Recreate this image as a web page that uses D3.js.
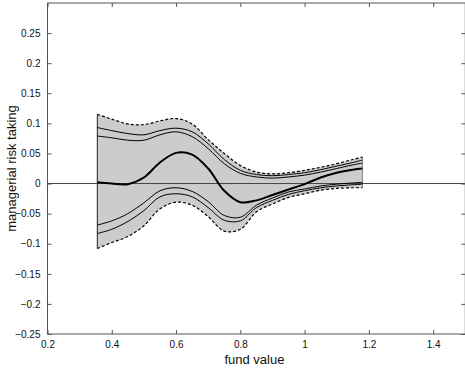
<!DOCTYPE html>
<html>
<head>
<meta charset="utf-8">
<script src="https://cdn.jsdelivr.net/npm/d3@7"></script>
<style>
  body { margin: 0; background: #fff; }
  svg { display: block; font-family: "Liberation Sans", Arial, sans-serif; }
</style>
</head>
<body>
<div id="chart"></div>
<script>
var fundValue = [0.355, 0.40, 0.45, 0.50, 0.55, 0.60, 0.65, 0.70, 0.75, 0.80, 0.85, 0.90, 0.95, 1.00, 1.05, 1.10, 1.15, 1.18];

var upperOuter = [0.115, 0.107, 0.099, 0.098, 0.104, 0.108, 0.099, 0.073, 0.050, 0.030, 0.019, 0.016, 0.018, 0.022, 0.027, 0.033, 0.040, 0.044];
var upperInner1 = [0.093, 0.088, 0.083, 0.081, 0.088, 0.092, 0.086, 0.066, 0.040, 0.022, 0.015, 0.013, 0.015, 0.018, 0.023, 0.029, 0.035, 0.039];
var upperInner2 = [0.079, 0.076, 0.072, 0.072, 0.081, 0.086, 0.078, 0.058, 0.033, 0.017, 0.011, 0.009, 0.011, 0.014, 0.019, 0.025, 0.031, 0.034];
var estimate = [0.002, 0.000, -0.001, 0.010, 0.035, 0.051, 0.048, 0.025, -0.012, -0.031, -0.028, -0.019, -0.010, -0.001, 0.010, 0.018, 0.023, 0.025];
var lowerInner1 = [-0.069, -0.062, -0.050, -0.032, -0.012, -0.007, -0.013, -0.030, -0.053, -0.056, -0.036, -0.024, -0.014, -0.009, -0.004, -0.001, 0.001, 0.002];
var lowerInner2 = [-0.083, -0.076, -0.063, -0.045, -0.022, -0.017, -0.022, -0.040, -0.061, -0.062, -0.040, -0.028, -0.018, -0.012, -0.007, -0.004, -0.002, -0.001];
var lowerOuter = [-0.108, -0.098, -0.088, -0.070, -0.042, -0.031, -0.036, -0.055, -0.079, -0.076, -0.047, -0.034, -0.023, -0.017, -0.011, -0.008, -0.007, -0.007];

var xTicks = [0.2, 0.4, 0.6, 0.8, 1, 1.2, 1.4];
var yTicks = [-0.25, -0.2, -0.15, -0.1, -0.05, 0, 0.05, 0.1, 0.15, 0.2, 0.25];

var width = 465, height = 369;
var plotL = 47.5, plotR = 465.3, plotT = 3, plotB = 334;

var svg = d3.select("#chart").append("svg")
    .attr("width", width)
    .attr("height", height);

var x = d3.scaleLinear().domain([0.2, 1.5]).range([plotL, plotR]);
var y = d3.scaleLinear().domain([-0.25, 0.3]).range([plotB, plotT]);

var pts = function (arr) {
    return fundValue.map(function (d, i) { return [d, arr[i]]; });
};

var smooth = d3.curveCatmullRom.alpha(0.5);

// shaded band between the outer bounds
var band = d3.area()
    .x(function (d, i) { return x(fundValue[i]); })
    .y0(function (d, i) { return y(lowerOuter[i]); })
    .y1(function (d) { return y(d); })
    .curve(smooth);

svg.append("path")
    .attr("d", band(upperOuter))
    .attr("fill", "#cccccc")
    .attr("stroke", "none");

// left/right edges of band
var last = fundValue.length - 1;
svg.append("line")
    .attr("x1", x(fundValue[0])).attr("x2", x(fundValue[0]))
    .attr("y1", y(upperOuter[0])).attr("y2", y(lowerOuter[0]))
    .attr("stroke", "#222").attr("stroke-width", 1);
svg.append("line")
    .attr("x1", x(fundValue[last])).attr("x2", x(fundValue[last]))
    .attr("y1", y(upperOuter[last])).attr("y2", y(lowerOuter[last]))
    .attr("stroke", "#888").attr("stroke-width", 1);

// zero line
svg.append("line")
    .attr("x1", plotL).attr("x2", plotR)
    .attr("y1", y(0)).attr("y2", y(0))
    .attr("stroke", "#444").attr("stroke-width", 1);

var line = d3.line()
    .x(function (d) { return x(d[0]); })
    .y(function (d) { return y(d[1]); })
    .curve(smooth);

[upperInner1, upperInner2, lowerInner1, lowerInner2].forEach(function (s) {
    svg.append("path")
        .attr("d", line(pts(s)))
        .attr("fill", "none")
        .attr("stroke", "#000")
        .attr("stroke-width", 1);
});

[upperOuter, lowerOuter].forEach(function (s) {
    svg.append("path")
        .attr("d", line(pts(s)))
        .attr("fill", "none")
        .attr("stroke", "#000")
        .attr("stroke-width", 1.2)
        .attr("stroke-dasharray", "3,2");
});

svg.append("path")
    .attr("d", line(pts(estimate)))
    .attr("fill", "none")
    .attr("stroke", "#000")
    .attr("stroke-width", 2);

// axes (matlab style, ticks inward)
var axisColor = "#555";
var bottomAxis = d3.axisBottom(x).tickValues(xTicks).tickSize(-4).tickPadding(7)
    .tickFormat(d3.format("~g"));
var leftAxis = d3.axisLeft(y).tickValues(yTicks).tickSize(-4).tickPadding(7)
    .tickFormat(d3.format("~g"));
var topAxis = d3.axisTop(x).tickValues(xTicks).tickSize(-4).tickFormat("");
var rightAxis = d3.axisRight(y).tickValues(yTicks).tickSize(-4).tickFormat("");

function style(g) {
    g.select(".domain").remove();
    g.selectAll(".tick line").attr("stroke", axisColor);
    g.selectAll(".tick text").attr("fill", "#111").style("font-size", "10px")
        .style("font-family", "'Liberation Sans', Arial, sans-serif");
}

svg.append("g").attr("transform", "translate(0," + plotB + ")").call(bottomAxis).call(style);
svg.append("g").attr("transform", "translate(" + plotL + ",0)").call(leftAxis).call(style);
svg.append("g").attr("transform", "translate(0," + plotT + ")").call(topAxis).call(style);
svg.append("g").attr("transform", "translate(" + plotR + ",0)").call(rightAxis).call(style);

svg.append("rect")
    .attr("x", plotL).attr("y", plotT)
    .attr("width", plotR - plotL).attr("height", plotB - plotT)
    .attr("fill", "none").attr("stroke", axisColor).attr("stroke-width", 1);

svg.append("text")
    .attr("x", (plotL + plotR) / 2 - 2)
    .attr("y", 364)
    .attr("text-anchor", "middle")
    .style("font-size", "13px")
    .attr("fill", "#111")
    .text("fund value");

svg.append("text")
    .attr("transform", "translate(16," + (plotT + plotB) / 2 + ") rotate(-90)")
    .attr("text-anchor", "middle")
    .style("font-size", "13px")
    .attr("fill", "#111")
    .text("managerial risk taking");
</script>
</body>
</html>
